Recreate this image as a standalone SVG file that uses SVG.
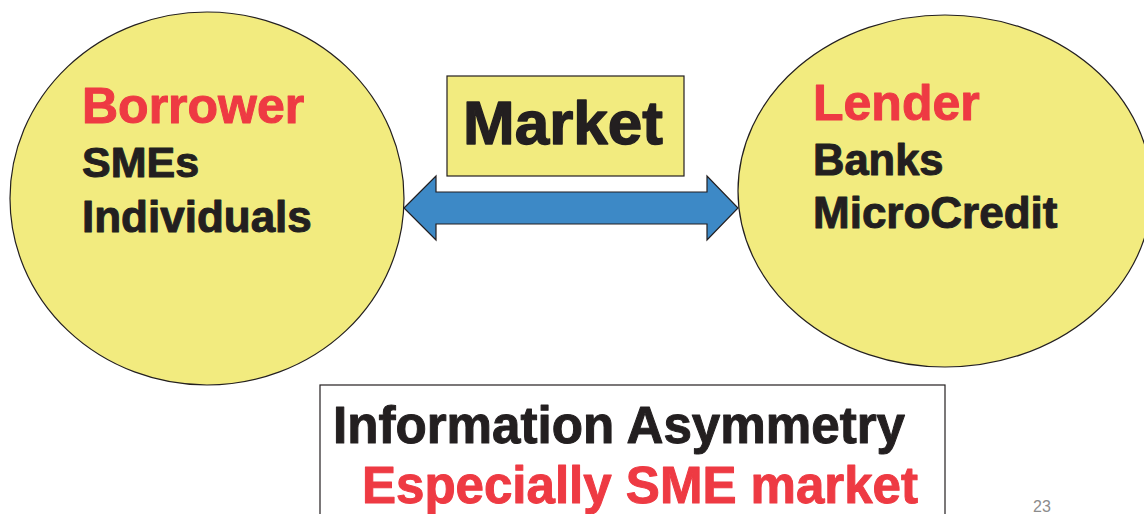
<svg xmlns="http://www.w3.org/2000/svg" width="1144" height="514" viewBox="0 0 1144 514">
<style>
.t{font-family:"Liberation Sans",Arial,sans-serif;font-weight:bold;stroke-width:1;stroke-linejoin:round}
.red{fill:#ee3a43;stroke:#ee3a43}
.blk{fill:#231f20;stroke:#231f20}
.ell{fill:#f2eb7f;stroke:#231f20;stroke-width:1.2}
</style>
<rect width="1144" height="514" fill="#ffffff"/>
<g id="connectors">
<path d="M404,208 L436,176 L436,192 L707,192 L707,176 L738,208 L707,240 L707,224 L436,224 L436,240 Z" fill="#3d89c6" stroke="#231f20" stroke-width="1.2" stroke-linejoin="miter"/>
</g>
<g id="borrower">
<ellipse class="ell" cx="207" cy="198.5" rx="197" ry="186.5"/>
<text class="t red" x="82" y="123" font-size="50">Borrower</text>
<text class="t blk" x="82" y="177" font-size="43">SMEs</text>
<text class="t blk" x="82" y="232" font-size="44">Individuals</text>
</g>
<g id="lender">
<ellipse class="ell" cx="945" cy="191" rx="207" ry="176"/>
<text class="t red" x="813" y="120" font-size="50">Lender</text>
<text class="t blk" x="813" y="175" font-size="43.5">Banks</text>
<text class="t blk" x="813" y="228" font-size="44">MicroCredit</text>
</g>
<g id="market">
<rect x="447" y="76" width="237" height="100" fill="#f2eb7f" stroke="#231f20" stroke-width="1.2"/>
<text class="t blk" x="463" y="144" font-size="62" style="stroke-width:1.4">Market</text>
</g>
<g id="info">
<rect x="320" y="385" width="625" height="140" fill="#ffffff" stroke="#231f20" stroke-width="1.2"/>
<text class="t blk" x="333" y="443" font-size="51" textLength="572" lengthAdjust="spacingAndGlyphs">Information Asymmetry</text>
<text class="t red" x="362" y="503" font-size="51" textLength="556" lengthAdjust="spacingAndGlyphs">Especially SME market</text>
</g>
<text x="1033" y="512" font-family="Liberation Sans,Arial,sans-serif" font-size="16" fill="#8c8c8c">23</text>
</svg>
